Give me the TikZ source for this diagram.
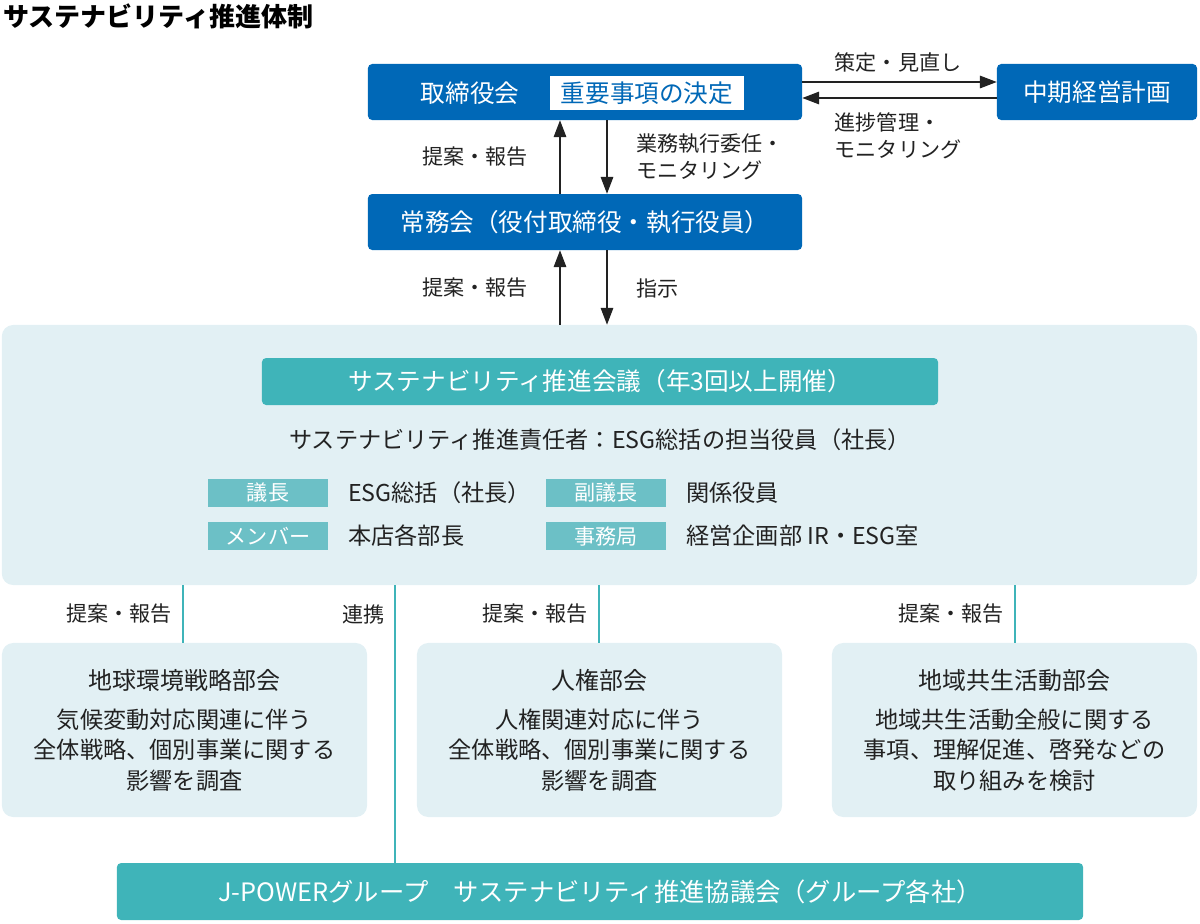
\documentclass[tikz,border=0pt]{standalone}
\usepackage{fontspec}
\setmainfont{Noto Sans CJK JP}
\usetikzlibrary{positioning,arrows.meta}
\definecolor{jblue}{HTML}{0068B7}
\definecolor{jteal}{HTML}{3FB4B9}
\definecolor{jtag}{HTML}{6CC0C6}
\definecolor{jpale}{HTML}{E2F0F4}
\definecolor{jtext}{HTML}{222222}
\tikzset{
  bluebox/.style={fill=jblue, rounded corners=3pt, text=white, minimum height=1.4cm, font=\fontsize{17.5}{20}\selectfont},
  palebox/.style={fill=jpale, rounded corners=8pt},
  tag/.style={fill=jtag, text=white, minimum width=3cm, minimum height=0.7cm, inner sep=0pt, font=\fontsize{15}{18}\selectfont},
  val/.style={anchor=west, text=jtext, inner sep=0pt, font=\fontsize{16.5}{19}\selectfont},
  lbl/.style={text=jtext, align=left, inner sep=0pt, font=\fontsize{15}{19}\selectfont},
  arr/.style={-{Triangle[length=12pt,width=9pt]}, thick, jtext},
  link/.style={jteal, line width=1.4pt},
  body/.style={text=jtext, align=center, font=\fontsize{16.5}{21.5}\selectfont}
}
\begin{document}
\begin{tikzpicture}[x=0.025cm, y=-0.025cm]
  \useasboundingbox (0,0) rectangle (1200,923);
  % Title
  \node[anchor=west, inner sep=0pt, font=\bfseries\fontsize{18.5}{21}\selectfont] (title) at (3,16) {サステナビリティ推進体制};

  % Upper boxes
  \node[bluebox, minimum width=10.85cm] (board) at (585,92) {};
  \node[text=white, font=\fontsize{17.5}{20}\selectfont] (boardtxt) at (470,93) {取締役会};
  \node[fill=white, text=jblue, minimum width=4.85cm, minimum height=0.85cm, inner sep=0pt, font=\fontsize{17.5}{20}\selectfont] (decide) at (647,93) {重要事項の決定};
  \node[bluebox, minimum width=5cm] (plan) at (1097,92) {中期経営計画};
  \node[bluebox, minimum width=10.85cm] (jomu) at (585,222) {常務会（役付取締役・執行役員）};

  % Sustainability council
  \node[palebox, minimum width=29.875cm, minimum height=6.5cm] (council) at (599.5,455) {};
  \node[fill=jteal, rounded corners=3pt, text=white, minimum width=16.9cm, minimum height=1.175cm, font=\fontsize{17.5}{20}\selectfont] (head) at (600,381.5) {サステナビリティ推進会議（年3回以上開催）};
  \node[body] (resp) at (600,440) {サステナビリティ推進責任者：ESG総括の担当役員（社長）};
  \node[tag] (chair) at (268,492.5) {議長};
  \node[tag] (member) at (268,536) {メンバー};
  \node[tag] (vice) at (606,492.5) {副議長};
  \node[tag] (office) at (606,536) {事務局};
  \node[val, right=14pt of chair] (chairv) {ESG総括（社長）};
  \node[val, right=14pt of member] (memberv) {本店各部長};
  \node[val, right=14pt of vice] (vicev) {関係役員};
  \node[val, right=14pt of office] (officev) {経営企画部 IR・ESG室};

  % Sub committees
  \node[palebox, minimum width=9.125cm, minimum height=4.35cm] (env) at (184.5,730) {};
  \node[palebox, minimum width=9.125cm, minimum height=4.35cm] (hr) at (599.5,730) {};
  \node[palebox, minimum width=9.125cm, minimum height=4.35cm] (loc) at (1014.5,730) {};
  \node[body, font=\fontsize{17}{20}\selectfont] (envt) at (184.5,680) {地球環境戦略部会};
  \node[body, font=\fontsize{17}{20}\selectfont] (hrt) at (599.5,680) {人権部会};
  \node[body, font=\fontsize{17}{20}\selectfont] (loct) at (1014.5,680) {地域共生活動部会};
  \node[body] (envb) at (184.5,750) {気候変動対応関連に伴う\\全体戦略、個別事業に関する\\影響を調査};
  \node[body] (hrb) at (599.5,750) {人権関連対応に伴う\\全体戦略、個別事業に関する\\影響を調査};
  \node[body] (locb) at (1014.5,750) {地域共生活動全般に関する\\事項、理解促進、啓発などの\\取り組みを検討};

  % Group band
  \node[fill=jteal, rounded corners=3pt, text=white, minimum width=24.15cm, minimum height=1.425cm, font=\fontsize{18}{20}\selectfont] (group) at (600,891.5) {J-POWERグループ\quad サステナビリティ推進協議会（グループ各社）};

  % Arrows
  \draw[arr] (board.east |- 0,82) -- (plan.west |- 0,82);
  \draw[arr] (plan.west |- 0,98) -- (board.east |- 0,98);
  \draw[arr] (jomu.north -| 560,0) -- (board.south -| 560,0);
  \draw[arr] (board.south -| 607,0) -- (jomu.north -| 607,0);
  \draw[arr] (council.north -| 560,0) -- (jomu.south -| 560,0);
  \draw[arr] (jomu.south -| 607,0) -- (council.north -| 607,0);

  % Links
  \draw[link] (council.south -| 183,0) -- (env.north -| 183,0);
  \draw[link] (council.south -| 395,0) -- (group.north -| 395,0);
  \draw[link] (council.south -| 599,0) -- (hr.north -| 599,0);
  \draw[link] (council.south -| 1015,0) -- (loc.north -| 1015,0);

  % Labels
  \node[lbl] (l1) at (898,62) {策定・見直し};
  \node[lbl] (l2) at (898,136) {進捗管理・\\モニタリング};
  \node[lbl] (l3) at (475,157) {提案・報告};
  \node[lbl, anchor=west] (l4) at (636,157) {業務執行委任・\\モニタリング};
  \node[lbl] (l5) at (475,288) {提案・報告};
  \node[lbl, anchor=west] (l6) at (636,288) {指示};
  \node[lbl, anchor=east] (l7) at (172,614) {提案・報告};
  \node[lbl, anchor=east] (l8) at (385,614) {連携};
  \node[lbl, anchor=east] (l9) at (588,614) {提案・報告};
  \node[lbl, anchor=east] (l10) at (1004,614) {提案・報告};
\end{tikzpicture}
\end{document}
